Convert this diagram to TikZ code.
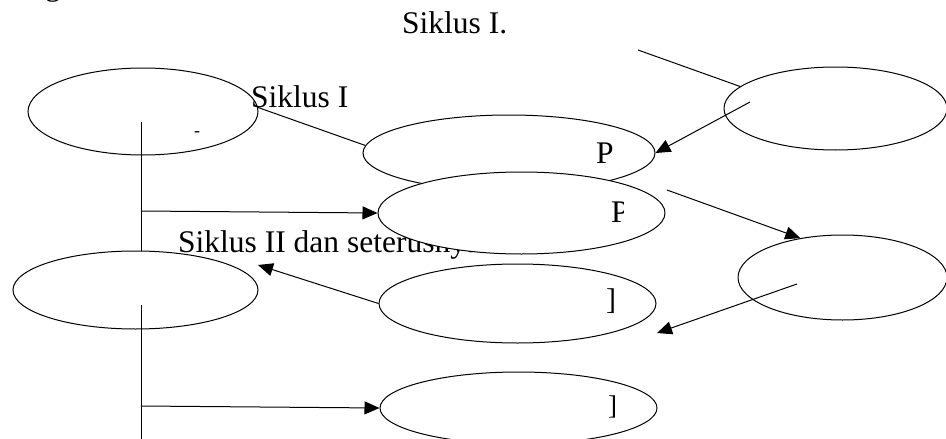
\documentclass[tikz,border=0pt]{standalone}
\usepackage{fontspec}
\setmainfont{Liberation Serif}
\usetikzlibrary{shapes.geometric,arrows.meta}
\begin{document}
\begin{tikzpicture}[x=1pt,y=-1pt,
  ell/.style={draw,ellipse,inner sep=0pt,line width=1pt,fill=white},
  conn/.style={line width=1pt},
  arr/.style={line width=1pt,-{Triangle[length=15pt,width=13pt]}},
  lbl/.style={font=\fontsize{31.5}{36}\selectfont,inner sep=0pt,anchor=base west},
  small/.style={inner sep=0pt,anchor=base west}]
\useasboundingbox (0,0) rectangle (946,439);

% ellipses
\node[ell,minimum width=230pt,minimum height=87pt] (e1) at (143,111.5) {};
\node[ell,minimum width=245pt,minimum height=78pt] (e4) at (135.5,290) {};
\node[ell,minimum width=223pt,minimum height=83pt] (e5) at (835.5,108.5) {};
\node[ell,minimum width=209pt,minimum height=85pt] (e6) at (842.5,277.5) {};
\node[ell,minimum width=277pt,minimum height=79pt] (e7) at (517.5,303.5) {};
\node[ell,minimum width=277pt,minimum height=72pt] (e8) at (518.5,408) {};
\node[ell,minimum width=292pt,minimum height=76pt] (e2) at (509,153) {};
\node[lbl] (t3) at (178,252) {Siklus II dan seterusnya};
\node[ell,minimum width=287pt,minimum height=82pt] (e3) at (521.5,213) {};

% texts
\node[lbl] (tg) at (45,-5) {g};
\node[lbl] (t1) at (402,33) {Siklus I.};
\node[lbl] (t2) at (251,107) {Siklus I};
\node[small,font=\fontsize{18}{20}\selectfont] (dash) at (194,136.5) {-};
\node[lbl] (p1) at (596,163) {P};
\begin{scope}
  \clip (600,190) rectangle (623,235);
  \node[lbl] (p2) at (611,222) {P};
\end{scope}
\node[small,font=\fontsize{30}{32}\selectfont] (b1) at (606,309) {]};
\node[small,font=\fontsize{27}{29}\selectfont] (b2) at (608,414) {]};

% free ends
\coordinate (v1a) at (141,122);
\coordinate (v1b) at (141,251);
\coordinate (v2a) at (141,305);
\coordinate (v2b) at (141,445);
\coordinate (h1) at (141,211);
\coordinate (h2) at (141,406);
\coordinate (a1s) at (750,102);
\coordinate (l1s) at (638,50);
\coordinate (a2s) at (667,190);
\coordinate (a3s) at (797,284);
\coordinate (a3e) at (657,333);
\coordinate (a4e) at (258,265);

% connectors
\draw[conn] (v1a) -- (v1b);
\draw[conn] (v2a) -- (v2b);
\draw[arr] (h1) -- (e3.west);
\draw[arr] (h2) -- (e8.west);
\draw[conn] (e1.2) -- (e2.177);
\draw[conn] (l1s) -- (e5.167);
\draw[arr] (a1s) -- (e2.east);
\draw[arr] (a2s) -- (e6.137);
\draw[arr] (a3s) -- (a3e);
\draw[arr] (e7.west) -- (a4e);
\end{tikzpicture}
\end{document}
